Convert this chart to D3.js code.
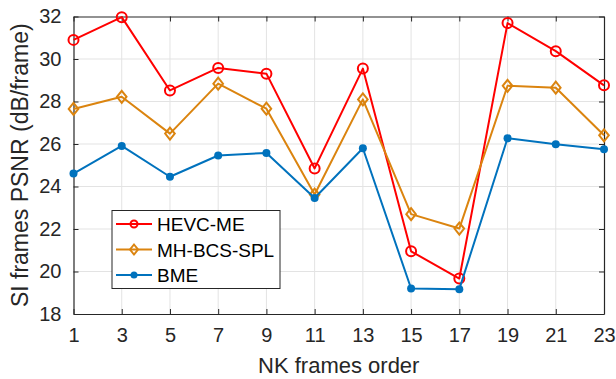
<!DOCTYPE html>
<html><head><meta charset="utf-8">
<script src="https://cdn.jsdelivr.net/npm/d3@7"></script>
<style>html,body{margin:0;padding:0;background:#fff;}svg{display:block;}</style>
</head><body>
<script>
const frames = [1,3,5,7,9,11,13,15,17,19,21,23];
const hevcME = [30.9,31.97,28.52,29.58,29.31,24.85,29.55,20.95,19.67,31.69,30.37,28.76];
const mhBcsSpl = [27.65,28.22,26.49,28.84,27.66,23.62,28.1,22.7,22.02,28.74,28.65,26.41];
const bme = [24.61,25.91,24.46,25.46,25.58,23.46,25.8,19.2,19.17,26.27,25.99,25.75];
const xTicks = [1,3,5,7,9,11,13,15,17,19,21,23];
const yTicks = [18,20,22,24,26,28,30,32];
const seriesNames = ["HEVC-ME","MH-BCS-SPL","BME"];

const W=616,H=379;
const m={left:73.5,right:12,top:16.5,bottom:65};
const svg=d3.select("body").append("svg").attr("width",W).attr("height",H);
const x=d3.scaleLinear().domain([1,23]).range([m.left,W-m.right]);
const y=d3.scaleLinear().domain([18,32]).range([H-m.bottom,m.top]);
const font="Liberation Sans, Arial, Helvetica, sans-serif";
const axisCol="#262626";

// grid
const g=svg.append("g");
g.selectAll(".gx").data(xTicks.slice(1,-1)).join("line")
 .attr("x1",d=>x(d)).attr("x2",d=>x(d)).attr("y1",y(18)).attr("y2",y(32))
 .attr("stroke","#e3e3e3").attr("stroke-width",1);
g.selectAll(".gy").data(yTicks.slice(1,-1)).join("line")
 .attr("y1",d=>y(d)).attr("y2",d=>y(d)).attr("x1",x(1)).attr("x2",x(23))
 .attr("stroke","#e3e3e3").attr("stroke-width",1);

// axes
function styleAxis(sel){
  sel.select(".domain").attr("stroke",axisCol).attr("stroke-width",1.2);
  sel.selectAll(".tick line").attr("stroke",axisCol).attr("stroke-width",1);
  sel.selectAll(".tick text").attr("fill",axisCol).style("font-family",font).style("font-size","20px");
}
const xb=svg.append("g").attr("transform",`translate(0,${y(18)})`)
 .call(d3.axisBottom(x).tickValues(xTicks).tickSizeInner(-5).tickSizeOuter(0).tickPadding(14));
styleAxis(xb);
const xt=svg.append("g").attr("transform",`translate(0,${y(32)})`)
 .call(d3.axisTop(x).tickValues(xTicks).tickSizeInner(-5).tickSizeOuter(0).tickFormat(""));
styleAxis(xt);
const yl=svg.append("g").attr("transform",`translate(${x(1)},0)`)
 .call(d3.axisLeft(y).tickValues(yTicks).tickSizeInner(-5).tickSizeOuter(0).tickPadding(12));
styleAxis(yl);
const yr=svg.append("g").attr("transform",`translate(${x(23)},0)`)
 .call(d3.axisRight(y).tickValues(yTicks).tickSizeInner(-5).tickSizeOuter(0).tickFormat(""));
styleAxis(yr);

// axis titles
svg.append("text").attr("x",(x(1)+x(23))/2).attr("y",373).attr("text-anchor","middle")
 .attr("fill",axisCol).style("font-family",font).style("font-size","22px").text("NK frames order");
svg.append("text").attr("transform",`translate(28,${(y(18)+y(32))/2}) rotate(-90)`).attr("text-anchor","middle")
 .attr("fill",axisCol).style("font-family",font).style("font-size","23px").text("SI frames PSNR (dB/frame)");

const colors=["#ff0000","#db840f","#0072bd"];
const data=[hevcME,mhBcsSpl,bme];
const line=d3.line().x((d,i)=>x(frames[i])).y(d=>y(d));

function marker(sel,k,sz){
  if(k===0){ sel.append("circle").attr("r",sz||5).attr("fill","none").attr("stroke",colors[0]).attr("stroke-width",2); }
  else if(k===1){ const s=sz||6; sel.append("path").attr("d",`M0,${-s}L${s*0.8},0L0,${s}L${-s*0.8},0Z`).attr("fill","none").attr("stroke",colors[1]).attr("stroke-width",2); }
  else { sel.append("circle").attr("r",sz||4).attr("fill",colors[2]); }
}

data.forEach((vals,k)=>{
  svg.append("path").datum(vals).attr("d",line).attr("fill","none").attr("stroke",colors[k]).attr("stroke-width",2).attr("stroke-linejoin","round");
  vals.forEach((v,i)=>{
    const gm=svg.append("g").attr("transform",`translate(${x(frames[i])},${y(v)})`);
    marker(gm,k);
  });
});

// legend
const lg=svg.append("g").attr("transform","translate(112,210.5)");
lg.append("rect").attr("width",168).attr("height",78).attr("fill","#fff").attr("stroke",axisCol).attr("stroke-width",1);
seriesNames.forEach((n,k)=>{
  const yy=13.5+k*25.5;
  lg.append("line").attr("x1",4).attr("x2",40).attr("y1",yy).attr("y2",yy).attr("stroke",colors[k]).attr("stroke-width",2);
  const gm=lg.append("g").attr("transform",`translate(22,${yy})`);
  marker(gm,k,k===0?3.5:(k===1?5:3.5));
  lg.append("text").attr("x",45).attr("y",yy+7).attr("fill","#000").style("font-family",font).style("font-size","19px").text(n);
});
</script>
</body></html>
